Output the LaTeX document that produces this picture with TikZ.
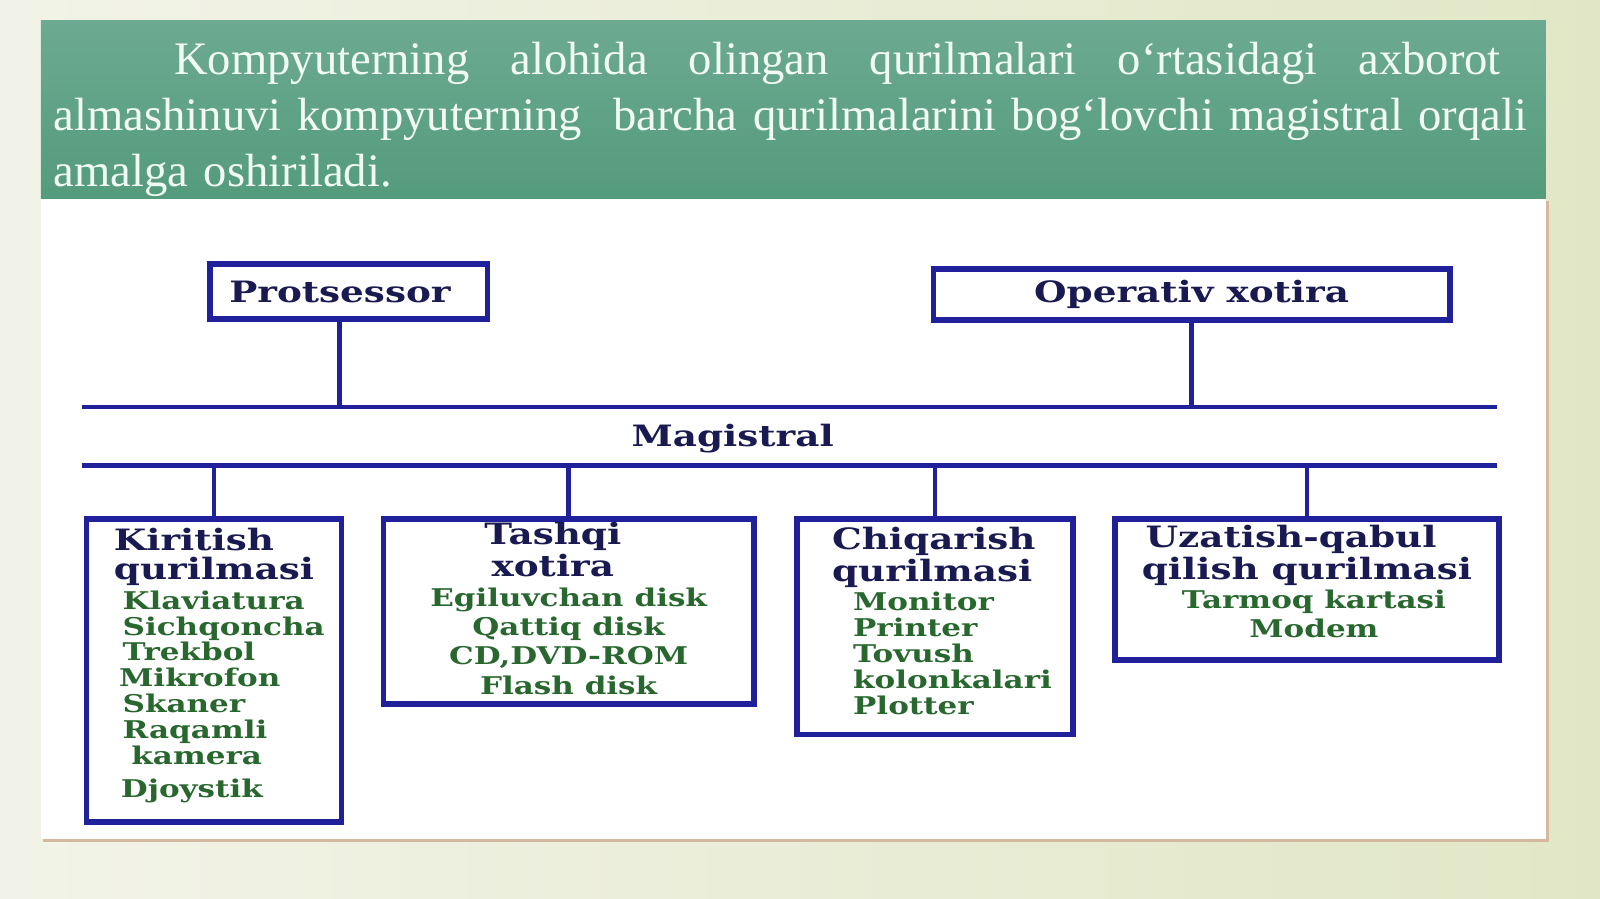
\documentclass[tikz,border=0pt]{standalone}
\usepackage{fontspec}
\setmainfont{Liberation Serif}
\newfontfamily\boxfont[FakeStretch=1.27]{DejaVu Serif}
\usetikzlibrary{positioning}
\definecolor{paperL}{RGB}{242,243,232}
\definecolor{paperR}{RGB}{225,231,198}
\definecolor{bandtop}{RGB}{108,170,146}
\definecolor{bandbot}{RGB}{84,155,124}
\definecolor{shadowtan}{RGB}{214,184,160}
\definecolor{introwhite}{RGB}{242,250,245}
\definecolor{linkblue}{RGB}{32,32,155}
\definecolor{headnavy}{RGB}{26,26,82}
\definecolor{itemgreen}{RGB}{40,104,46}
\newdimen\pxu \pxu=0.010204cm
\newcommand{\hd}[1]{{\color{headnavy}\fontsize{8.37}{8.98}\selectfont #1}}

\begin{document}
\begin{tikzpicture}[x=0.010204cm,y=-0.010204cm,
    link/.style={draw=linkblue, line width=1.25pt},
    unit/.style={draw=linkblue, line width=1.6pt, fill=white, anchor=north west,
      inner sep=0pt, align=center, text=itemgreen,
      font={\boxfont\bfseries\fontsize{6.95}{7.35}\selectfont}},
    topunit/.style={unit, text=headnavy, font={\boxfont\bfseries\fontsize{8.37}{8.98}\selectfont}},
    intro/.style={anchor=north west, inner sep=0pt, text width=1445\pxu, align=left,
      text=introwhite, font={\fontsize{13.27}{15.92}\selectfont}}]
  \useasboundingbox (0,0) rectangle (1568,881);
  \shade[left color=paperL, right color=paperR] (0,0) rectangle (1568,881);
  % panel and title band
  \fill[shadowtan] (42,197) rectangle (1518,825);
  \fill[white] (40,195) rectangle (1515,822);
  \shade[top color=bandtop, bottom color=bandbot] (40,20) rectangle (1515,195);
  \node[intro] (intro) at (52,41) {\hspace*{118\pxu}\hbox to 1300\pxu{Kompyuterning\hfil alohida\hfil olingan\hfil qurilmalari\hfil o‘rtasidagi\hfil axborot}\\
    \makebox[1445\pxu][s]{almashinuvi kompyuterning\ \ barcha qurilmalarini bog‘lovchi magistral orqali}\\
    amalga oshiriladi.};
  % top units
  \node[topunit, minimum width=272\pxu, minimum height=54\pxu] (proc) at (203,256) {Protsessor\hspace*{5pt}};
  \node[topunit, minimum width=506\pxu, minimum height=50\pxu] (mem) at (912,261) {Operativ xotira};
  % bus
  \coordinate (busTW) at (80,399);
  \coordinate (busTE) at (1467,399);
  \coordinate (busBW) at (80,456);
  \coordinate (busBE) at (1467,456);
  \draw[link] (busTW) -- (busTE);
  \draw[link] (busBW) -- (busBE);
  \node[text=headnavy, font={\boxfont\bfseries\fontsize{8.37}{8.98}\selectfont}] (bus) at (718,430) {Magistral};
  % device units
  \node[unit, align=left, minimum width=250\pxu, minimum height=297\pxu] (in) at (82,506)
    {\hspace*{3pt}\hd{Kiritish}\\[1pt] \hspace*{3pt}\hd{qurilmasi}\\[1pt]
     \hspace*{5.5pt}Klaviatura\\ \hspace*{5.5pt}Sichqoncha\\ \hspace*{5.5pt}Trekbol\\
     \hspace*{4.5pt}Mikrofon\\ \hspace*{5.5pt}Skaner\\ \hspace*{5.5pt}Raqamli\\
     \hspace*{8pt}kamera\\[2pt] \hspace*{5pt}Djoystik\\[-2.8pt]\mbox{}};
  \node[unit, minimum width=363\pxu, minimum height=181\pxu] (ext) at (373,506)
    {\hd{Tashqi}\rule{9pt}{0pt}\\ \hd{xotira}\rule{9pt}{0pt}\\[1pt] Egiluvchan disk\\[1pt] Qattiq disk\\[1pt] CD,DVD-ROM\\[1pt] Flash disk\\[-5.6pt]\mbox{}};
  \node[unit, align=left, minimum width=271\pxu, minimum height=211\pxu] (out) at (778,506)
    {\hspace*{4pt}\hd{Chiqarish}\\ \hspace*{4pt}\hd{qurilmasi}\\[1pt]
     \hspace*{10pt}Monitor\\ \hspace*{10pt}Printer\\ \hspace*{10pt}Tovush\\
     \hspace*{10pt}kolonkalari\\ \hspace*{10pt}Plotter\\[-3.8pt]\mbox{}};
  \node[unit, minimum width=376\pxu, minimum height=138\pxu] (net) at (1090,506)
    {\hd{Uzatish-qabul}\rule{9pt}{0pt}\\ \hd{qilish qurilmasi}\\[1pt] \hspace*{4pt}Tarmoq kartasi\\[1pt] \hspace*{4pt}Modem\\[-2.7pt]\mbox{}};
  % connectors
  \draw[link] ([xshift=-9\pxu]proc.south) -- ([xshift=-9\pxu]proc.south |- busTW);
  \draw[link] (mem.south) -- (mem.south |- busTW);
  \foreach \n in {in,ext,out,net}
    \draw[link] (\n.north) -- (\n.north |- busBW);
\end{tikzpicture}
\end{document}
